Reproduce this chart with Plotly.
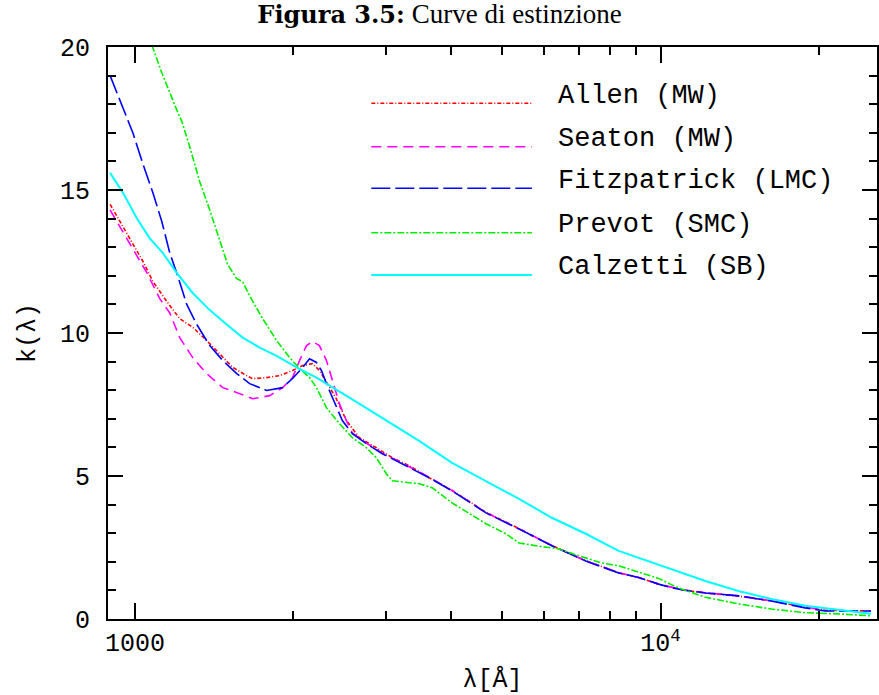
import plotly.graph_objects as go

# ---------------- data ----------------
series_names = ["Allen (MW)", "Seaton (MW)", "Fitzpatrick (LMC)", "Prevot (SMC)", "Calzetti (SB)"]

lam_allen = [897, 937, 991, 1036, 1082, 1150, 1217, 1288, 1369, 1450, 1535, 1631, 1675, 1781, 1885,
             1995, 2084, 2177, 2244, 2324, 2417, 2525, 2673, 2879, 3088, 3326, 3629, 4012, 4655, 5379,
             6211, 7206, 8324, 9085, 9913, 10961, 12172, 14060, 16240, 18840, 20560, 25140]
k_allen = [14.5, 13.9, 13.1, 12.5, 11.8, 11.1, 10.5, 10.2, 9.74, 9.28, 8.8, 8.51, 8.4, 8.44, 8.51,
           8.69, 8.86, 8.93, 8.69, 8.23, 7.7, 6.94, 6.34, 5.99, 5.64, 5.36, 4.94, 4.5, 3.73, 3.16,
           2.57, 2.04, 1.62, 1.45, 1.22, 1.02, 0.91, 0.80, 0.63, 0.42, 0.30, 0.28]

lam_seaton = [897, 937, 991, 1054, 1115, 1165, 1217, 1288, 1369, 1469, 1582, 1675, 1804, 1910, 1995,
              2057, 2121, 2177, 2244, 2314, 2376, 2449, 2525, 2593, 2756, 2956, 3226, 3629, 4012, 4655,
              5379, 6211, 7206, 8324, 9085, 9913, 10961, 12172, 14060, 16240, 18840, 20560]
k_seaton = [14.3, 13.7, 12.9, 12.1, 11.2, 10.7, 9.84, 9.14, 8.58, 8.09, 7.88, 7.7, 7.81, 8.09, 8.44,
            9.04, 9.56, 9.70, 9.56, 9.04, 8.34, 7.53, 6.94, 6.5, 6.15, 5.8, 5.45, 4.96, 4.49, 3.72,
            3.15, 2.57, 2.03, 1.62, 1.45, 1.22, 1.03, 0.92, 0.81, 0.64, 0.42, 0.30]

lam_fitz = [897, 957, 991, 1036, 1082, 1125, 1165, 1201, 1255, 1311, 1388, 1469, 1562, 1653, 1781,
            1910, 1995, 2084, 2149, 2215, 2264, 2314, 2376, 2428, 2481, 2593, 2756, 2956, 3226, 3629,
            4012, 4655, 5379, 6211, 7206, 8324, 9085, 9913, 10493, 10961, 12172, 14060, 16240, 18840,
            20560, 21770, 25140]
k_fitz = [19.0, 17.7, 17.0, 15.9, 14.9, 13.9, 12.8, 12.1, 11.0, 10.3, 9.56, 9.04, 8.58, 8.23, 7.99,
          8.09, 8.41, 8.79, 9.1, 8.97, 8.69, 8.23, 7.74, 7.39, 6.94, 6.48, 6.13, 5.78, 5.43, 4.94,
          4.48, 3.71, 3.15, 2.56, 2.03, 1.61, 1.45, 1.22, 1.10, 1.02, 0.91, 0.81, 0.63, 0.39,
          0.28, 0.28, 0.28]

lam_prevot = [1077, 1125, 1201, 1228, 1272, 1328, 1388, 1450, 1501, 1562, 1603, 1653, 1750, 1860, 1969,
              2057, 2149, 2215, 2314, 2449, 2593, 2756, 2879, 3008, 3088, 3474, 3677, 4012, 4322, 4655,
              5081, 5379, 5791, 6404, 6990, 7727, 8324, 8965, 9913, 10493, 10961, 12172, 14060, 16240,
              18840, 21770, 25140]
k_prevot = [20.07, 19.1, 17.8, 17.4, 16.5, 15.3, 14.3, 13.2, 12.4, 11.9, 11.8, 11.3, 10.5, 9.74, 9.14,
            8.76, 8.44, 8.09, 7.39, 6.83, 6.34, 5.99, 5.64, 5.08, 4.83, 4.73, 4.59, 4.06, 3.68, 3.33,
            2.98, 2.66, 2.56, 2.45, 2.21, 1.96, 1.86, 1.68, 1.42, 1.2, 1.05, 0.76, 0.53, 0.35,
            0.22, 0.18, 0.11]

lam_calz = [897, 949, 1009, 1068, 1130, 1201, 1288, 1388, 1495, 1603, 1727, 1860, 2030, 2215, 2559,
            2956, 3474, 4012, 4655, 5379, 6211, 7206, 8324, 9085, 9913, 10493, 12172, 14060, 16240,
            18840, 21770, 25140]
k_calz = [15.6, 14.9, 14.0, 13.3, 12.8, 12.1, 11.4, 10.8, 10.3, 9.84, 9.49, 9.2, 8.8, 8.44, 7.74,
          7.04, 6.23, 5.46, 4.83, 4.2, 3.54, 2.98, 2.38, 2.14, 1.90, 1.72, 1.33, 0.98, 0.70,
          0.46, 0.32, 0.18]

x_tick_vals = [1000, 10000]
x_tick_text = ["1000", "10<sup>4</sup>"]
x_minor_vals = [2000, 3000, 4000, 5000, 6000, 7000, 8000, 9000, 20000]
y_tick_vals = [0, 5, 10, 15, 20]

# ---------------- styles ----------------
colors = ["#ff0000", "#ff00ff", "#0000ff", "#00ee00", "#00ffff"]
dashes = ["4px,2px,1px,2px", "10px,6px", "19px,5px", "7px,2px,2px,2px", "solid"]
widths = [1.6, 1.6, 1.6, 1.6, 2.0]
xs = [lam_allen, lam_seaton, lam_fitz, lam_prevot, lam_calz]
ys = [k_allen, k_seaton, k_fitz, k_prevot, k_calz]

MONO = "Liberation Mono, Courier New, monospace"
SERIF = "Liberation Serif, DejaVu Serif, serif"

fig = go.Figure()
for name, x, y, c, d, w in zip(series_names, xs, ys, colors, dashes, widths):
    fig.add_trace(go.Scatter(x=x, y=y, mode="lines", name=name, showlegend=False,
                             line=dict(color=c, dash=d, width=w)))

# custom legend with long sample lines (like the original)
leg_line_y = [0.9016, 0.8257, 0.7530, 0.6753, 0.6014]
for i, name in enumerate(series_names):
    fig.add_shape(type="line", xref="paper", yref="paper",
                  x0=0.3424, x1=0.5512, y0=leg_line_y[i], y1=leg_line_y[i],
                  line=dict(color=colors[i], dash=dashes[i], width=widths[i]))
    fig.add_annotation(xref="paper", yref="paper", x=0.583, y=leg_line_y[i] + 0.0135,
                       text=name, showarrow=False, xanchor="left", yanchor="middle",
                       font=dict(family=MONO, size=27, color="black"))

axis_common = dict(showline=True, linecolor="black", linewidth=2, mirror="ticks",
                   ticks="inside", tickcolor="black", tickwidth=2, showgrid=False, zeroline=False)

fig.update_xaxes(type="log", range=[2.9488, 4.4118],
                 tickmode="array", tickvals=x_tick_vals, ticktext=x_tick_text, ticklen=16,
                 minor=dict(tickmode="array", tickvals=x_minor_vals, ticks="inside",
                            ticklen=8, tickwidth=2, tickcolor="black", showgrid=False),
                 tickfont=dict(family=MONO, size=25, color="black"),
                 ticklabelstandoff=0,
                 title=dict(text="λ[Å]", font=dict(family=MONO, size=25, color="black"), standoff=14),
                 **axis_common)

fig.update_yaxes(range=[0, 20], tickmode="array", tickvals=y_tick_vals, ticklen=15,
                 minor=dict(dtick=1, tick0=0, ticks="inside", ticklen=8, tickwidth=2,
                            tickcolor="black", showgrid=False),
                 tickfont=dict(family=MONO, size=25, color="black"),
                 ticklabelstandoff=11,
                 title=dict(text="k(λ)", font=dict(family=MONO, size=25, color="black"), standoff=17),
                 **axis_common)

fig.update_layout(
    width=879, height=695,
    margin=dict(l=108, r=0, t=47, b=76),
    paper_bgcolor="white", plot_bgcolor="white",
    title=dict(text='<span style="font-family:DejaVu Serif;font-size:24px"><b>Figura 3.5:</b></span> Curve di estinzione',
               xref="container", yref="container",
               x=0.5, xanchor="center", y=1 - 14 / 695, yanchor="middle",
               font=dict(family=SERIF, size=27, color="black")),
)

fig.write_html("out.html", config={"displayModeBar": False},
               post_script="document.body.style.margin='0px';document.body.style.overflow='hidden';")
